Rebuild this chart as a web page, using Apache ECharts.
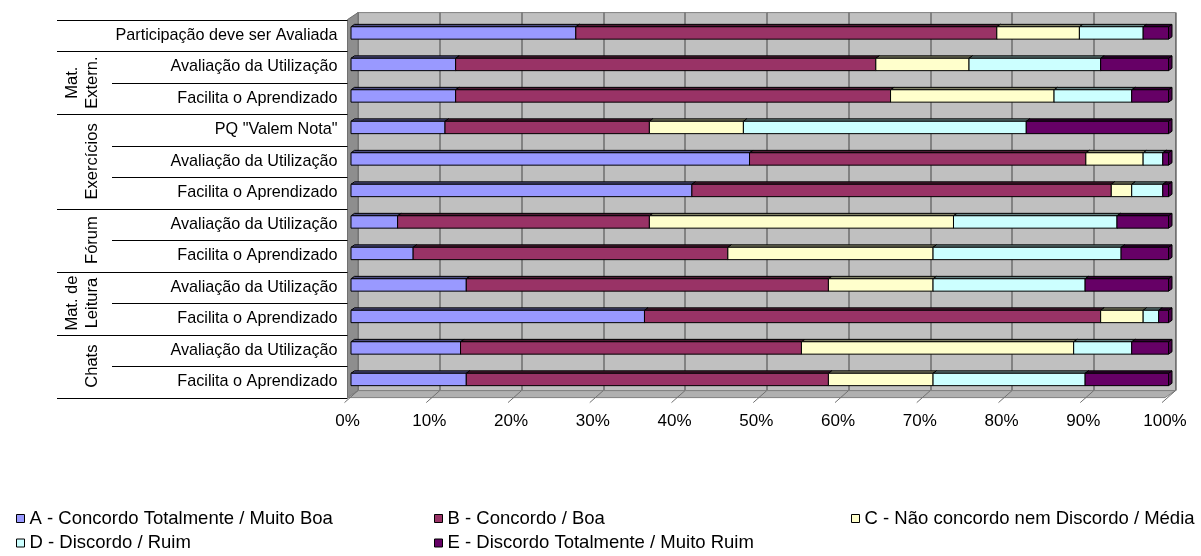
<!DOCTYPE html>
<html>
<head>
<meta charset="utf-8">
<script src="https://cdn.jsdelivr.net/npm/echarts@6/dist/echarts.min.js"></script>
<style>
html,body{margin:0;padding:0;background:#ffffff;}
#chart{width:1201px;height:556px;}
</style>
</head>
<body>
<div id="chart"></div>
<script>
// ---------- data ----------
const categories = [
  'Participação deve ser Avaliada',
  'Avaliação da Utilização',
  'Facilita o Aprendizado',
  'PQ "Valem Nota"',
  'Avaliação da Utilização',
  'Facilita o Aprendizado',
  'Avaliação da Utilização',
  'Facilita o Aprendizado',
  'Avaliação da Utilização',
  'Facilita o Aprendizado',
  'Avaliação da Utilização',
  'Facilita o Aprendizado'
];
const groupNames = ['Mat.\nExtern.', 'Exercícios', 'Fórum', 'Mat. de\nLeitura', 'Chats'];
const groupFirst = [1, 3, 6, 8, 10];
const groupLast  = [2, 5, 7, 9, 11];

const seriesNames = [
  'A - Concordo Totalmente / Muito Boa',
  'B - Concordo / Boa',
  'C - Não concordo nem Discordo / Média',
  'D - Discordo / Ruim',
  'E - Discordo Totalmente / Muito Ruim'
];
const valuesA = [27.5, 12.8, 12.8, 11.5, 48.7, 41.7, 5.7, 7.6, 14.1, 35.9, 13.4, 14.1];
const valuesB = [51.5, 51.4, 53.2, 25.0, 41.1, 51.3, 30.8, 38.5, 44.3, 55.8, 41.7, 44.3];
const valuesC = [10.1, 11.4, 20.0, 11.5, 7.0, 2.5, 37.2, 25.1, 12.8, 5.2, 33.3, 12.8];
const valuesD = [7.8, 16.1, 9.5, 34.6, 2.4, 3.8, 20.0, 23.0, 18.6, 1.9, 7.1, 18.6];
const valuesE = [3.1, 8.3, 4.5, 17.4, 0.7, 0.7, 6.3, 5.8, 10.2, 1.2, 4.5, 10.2];
const tickValues = [0, 10, 20, 30, 40, 50, 60, 70, 80, 90, 100];

// ---------- styling ----------
const frontColors = ['#9999FF', '#993366', '#FFFFCC', '#CCFFFF', '#660066'];
const topColors   = ['#4d4d80', '#4d1a33', '#808066', '#668080', '#330033'];
const sideColors  = ['#6b6bb3', '#6b2447', '#b3b38f', '#8fb3b3', '#470047'];
const FONT = '"Liberation Sans", Arial, Helvetica, sans-serif';
const DEPTH = [10.5, -7];      // full 3D depth vector
const BAR_DEPTH = [3.5, -2.4]; // bar thickness in depth
const BAR_HALF = 6.2;
const TABLE_LEFT = 57, INNER_LEFT = 112, GROUP_X = 102;
// legend slot positions (left, top) for A, B, C, D, E
const legendSlots = [[16, 508.5], [434, 508.5], [851, 508.5], [16, 533], [434, 533]];

// ---------- percent stacking ----------
const allValues = [valuesA, valuesB, valuesC, valuesD, valuesE];
const rowTotals = categories.map((c, i) => allValues.reduce((s, arr) => s + arr[i], 0));
const stackedData = allValues.map((arr, k) => categories.map((c, i) => {
  let start = 0;
  for (let j = 0; j < k; j++) start += allValues[j][i];
  return [i, start / rowTotals[i] * 100, (start + arr[i]) / rowTotals[i] * 100];
}));

function barRenderer(k) {
  return function (params, api) {
    const cat = api.value(0);
    const p0 = api.coord([api.value(1), cat]);
    const p1 = api.coord([api.value(2), cat]);
    const x0 = p0[0], x1 = p1[0];
    const yt = p0[1] - BAR_HALF, yb = p0[1] + BAR_HALF;
    const dx = BAR_DEPTH[0], dy = BAR_DEPTH[1];
    return {
      type: 'group',
      children: [
        { type: 'polygon', shape: { points: [[x1, yt], [x1 + dx, yt + dy], [x1 + dx, yb + dy], [x1, yb]] },
          style: { fill: sideColors[k], stroke: '#000', lineWidth: 1 } },
        { type: 'polygon', shape: { points: [[x0, yt], [x1, yt], [x1 + dx, yt + dy], [x0 + dx, yt + dy]] },
          style: { fill: topColors[k], stroke: '#000', lineWidth: 1 } },
        { type: 'rect', shape: { x: x0, y: yt, width: x1 - x0, height: yb - yt },
          style: { fill: frontColors[k], stroke: '#000', lineWidth: 1 } }
      ]
    };
  };
}

function frameRenderer(params, api) {
  const band = api.size([0, 1])[1];
  const o = api.coord([0, 0]);
  const x0 = o[0];
  const xEnd = api.coord([100, 0])[0];
  const top = o[1] - band / 2;
  const bottom = top + band * categories.length;
  const dx = DEPTH[0], dy = DEPTH[1];
  const children = [];
  // left wall
  children.push({ type: 'polygon', shape: { points: [[x0, top], [x0 + dx, top + dy], [x0 + dx, bottom + dy], [x0, bottom]] },
    style: { fill: '#8e8e8e', stroke: '#707070', lineWidth: 1 } });
  // floor
  children.push({ type: 'polygon', shape: { points: [[x0, bottom], [xEnd, bottom], [xEnd + dx, bottom + dy], [x0 + dx, bottom + dy]] },
    style: { fill: '#b0b0b0', stroke: '#808080', lineWidth: 1 } });
  tickValues.forEach(v => {
    const x = api.coord([v, 0])[0];
    children.push({ type: 'line', shape: { x1: x - 3, y1: bottom + 5, x2: x + dx, y2: bottom + dy },
      style: { stroke: '#707070', lineWidth: 1 } });
  });
  // table lines
  const full = new Set([0, 1, categories.length]);
  groupFirst.forEach(g => full.add(g));
  groupLast.forEach(g => full.add(g + 1));
  for (let b = 0; b <= categories.length; b++) {
    const y = Math.round(top + b * band) + 0.5;
    children.push({ type: 'line', shape: { x1: full.has(b) ? TABLE_LEFT : INNER_LEFT, y1: y, x2: x0, y2: y },
      style: { stroke: '#000', lineWidth: 1 } });
  }
  // group labels
  groupNames.forEach((name, g) => {
    const cy = top + (groupFirst[g] + groupLast[g] + 1) / 2 * band;
    children.push({ type: 'text', x: GROUP_X, y: cy, rotation: Math.PI / 2,
      style: { text: name, align: 'center', verticalAlign: 'bottom', font: '16.5px ' + FONT,
        lineHeight: 20, fill: '#000' } });
  });
  return { type: 'group', children: children };
}

const chart = echarts.init(document.getElementById('chart'), null, { renderer: 'canvas' });
const legends = seriesNames.map((name, k) => ({
  orient: 'horizontal', icon: 'rect', itemWidth: 8, itemHeight: 8, padding: 0,
  left: legendSlots[k][0], top: legendSlots[k][1], data: [name],
  textStyle: { fontFamily: FONT, fontSize: 18.5, color: '#000', lineHeight: 20 },
  itemStyle: { borderColor: '#000', borderWidth: 1 },
  selectedMode: false
}));
const option = {
  animation: false,
  backgroundColor: '#ffffff',
  grid: [
    // bar plane
    { left: 351, top: 17.2, width: 817.5, height: 378, outerBoundsMode: 'none', containLabel: false },
    // front plane
    { left: 347.5, top: 19.6, width: 817.5, height: 378, outerBoundsMode: 'none', containLabel: false },
    // back wall
    { left: 358, top: 12.6, width: 817.5, height: 378, outerBoundsMode: 'none', containLabel: false,
      show: true, backgroundColor: '#C0C0C0', borderColor: '#808080', borderWidth: 1 }
  ],
  xAxis: [
    { gridIndex: 0, type: 'value', min: 0, max: 100, interval: 10, show: false },
    { gridIndex: 1, type: 'value', min: 0, max: 100, interval: 10,
      axisLine: { show: false }, splitLine: { show: false },
      axisTick: { show: false },
      axisLabel: { formatter: '{value}%', fontFamily: FONT, fontSize: 17, color: '#000', margin: 15 } },
    { gridIndex: 2, type: 'value', min: 0, max: 100, interval: 10,
      axisLine: { show: false }, axisTick: { show: false }, axisLabel: { show: false },
      splitLine: { show: true, lineStyle: { color: '#6e6e6e', width: 1.5 } } }
  ],
  yAxis: [
    { gridIndex: 0, type: 'category', data: categories.map((c, i) => String(i)), inverse: true, show: false },
    { gridIndex: 1, type: 'category', data: categories.map((c, i) => String(i)), inverse: true,
      axisLine: { show: false }, axisTick: { show: false }, splitLine: { show: false },
      axisLabel: { formatter: (v) => categories[+v], fontFamily: FONT, fontSize: 16.2, color: '#000', margin: 10 } },
    { gridIndex: 2, type: 'category', data: categories.map((c, i) => String(i)), inverse: true, show: false }
  ],
  legend: legends,
  series: [
    { type: 'custom', name: 'frame', xAxisIndex: 1, yAxisIndex: 1, z: 1, silent: true,
      data: [[0, 0]], renderItem: frameRenderer }
  ].concat(seriesNames.map((name, k) => ({
    type: 'custom', name: name, xAxisIndex: 0, yAxisIndex: 0, z: 2 + k, silent: true,
    itemStyle: { color: frontColors[k], borderColor: '#000', borderWidth: 1 },
    encode: { x: [1, 2], y: 0 },
    data: stackedData[k],
    renderItem: barRenderer(k)
  })))
};
chart.setOption(option);
</script>
</body>
</html>
